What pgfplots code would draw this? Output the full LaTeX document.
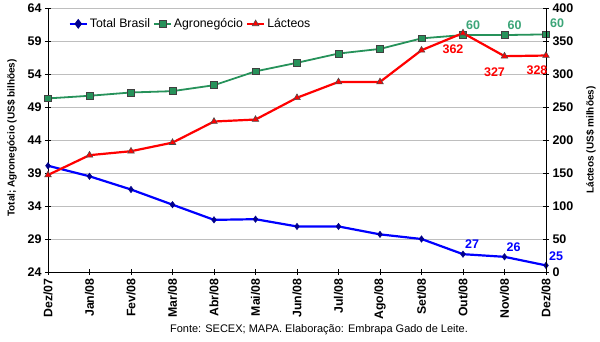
\documentclass[border=0pt]{standalone}
\usepackage{pgfplots}
\pgfplotsset{compat=1.18}
\usepackage{fontspec}
\setmainfont{Liberation Sans}
\definecolor{agro}{RGB}{38,146,90}
\definecolor{agrolab}{RGB}{60,165,120}
\definecolor{darkblue}{RGB}{0,0,140}
\definecolor{gridgray}{RGB}{190,190,190}
\pgfplotstableread{
x total agro lact
0 40.1 50.3 147
1 38.5 50.7 177
2 36.5 51.2 183
3 34.2 51.4 196
4 31.9 52.3 228
5 32.0 54.4 231
6 30.9 55.7 264
7 30.9 57.1 288
8 29.7 57.8 288
9 29.0 59.4 336
10 26.7 59.9 362
11 26.3 59.9 327
12 25.0 60.0 328
}\datatable
\begin{document}
\begin{tikzpicture}
\pgfplotsset{
  base/.style={
    scale only axis, width=498pt, height=264pt,
    at={(0,0)}, anchor=south west,
    clip=false,
    xmin=0, xmax=12,
    xtick={0,...,12},
    /pgf/number format/assume math mode=true,
    ticklabel style={font=\bfseries\fontsize{12.5}{14}\selectfont},
    tick align=center,
    major tick length=6pt,
    tick style={black, line width=0.8pt},
    axis line style={line width=0.9pt},
  }
}
\begin{axis}[base,
  axis y line*=left, axis x line*=bottom,
  ymin=24, ymax=64, ytick={24,29,...,64},
  ymajorgrids, grid style={gridgray, line width=0.9pt},
  xticklabels={Dez/07,Jan/08,Fev/08,Mar/08,Abr/08,Mai/08,Jun/08,Jul/08,Ago/08,Set/08,Out/08,Nov/08,Dez/08},
  xticklabel style={rotate=90, anchor=east, font=\bfseries\fontsize{12.3}{14}\selectfont},
]
\addplot[blue, line width=2.2pt, mark=diamond*, mark size=3.2pt,
  mark options={fill=darkblue, draw=darkblue, line width=0.5pt}] table[x=x,y=total] {\datatable};
\addplot[agro, line width=1.8pt, mark=square*, mark size=3.4pt,
  mark options={fill=agro, draw=black!75, line width=0.7pt}] table[x=x,y=agro] {\datatable};
\node[text=agrolab, font=\bfseries\fontsize{12.5}{14}\selectfont] at (axis cs:10,59.9) [xshift=10pt, yshift=10pt] {60};
\node[text=agrolab, font=\bfseries\fontsize{12.5}{14}\selectfont] at (axis cs:11,59.9) [xshift=10pt, yshift=10pt] {60};
\node[text=agrolab, font=\bfseries\fontsize{12.5}{14}\selectfont] at (axis cs:12,60.0) [xshift=11pt, yshift=11pt] {60};
\node[text=blue, font=\bfseries\fontsize{12.5}{14}\selectfont] at (axis cs:10,26.7) [xshift=9pt, yshift=10pt] {27};
\node[text=blue, font=\bfseries\fontsize{12.5}{14}\selectfont] at (axis cs:11,26.3) [xshift=9pt, yshift=10pt] {26};
\node[text=blue, font=\bfseries\fontsize{12.5}{14}\selectfont] at (axis cs:12,25.0) [xshift=10pt, yshift=9pt] {25};
\end{axis}
\begin{axis}[base,
  axis y line*=right, axis x line=none,
  ymin=0, ymax=400, ytick={0,50,...,400},
  legend style={at={(rel axis cs:0.035,0.94)}, anchor=west, draw=none, fill=none,
    font=\fontsize{12.3}{14}\selectfont, legend columns=-1,
    /tikz/every even column/.append style={column sep=1pt}},
  legend cell align=left,
]
\addlegendimage{blue, line width=2.2pt, mark=diamond*, mark size=3.2pt, mark options={fill=darkblue, draw=darkblue}}
\addlegendentry{Total Brasil}
\addlegendimage{agro, line width=1.8pt, mark=square*, mark size=3.4pt, mark options={fill=agro, draw=black!75, line width=0.7pt}}
\addlegendentry{Agronegócio}
\addplot[red, line width=2.2pt, mark=triangle*, mark size=3.8pt,
  mark options={fill=red, draw=black!70, line width=0.6pt}] table[x=x,y=lact] {\datatable};
\addlegendentry{Lácteos}
\node[text=red, font=\bfseries\fontsize{12.5}{14}\selectfont] at (axis cs:10,362) [xshift=-10pt, yshift=-16pt] {362};
\node[text=red, font=\bfseries\fontsize{12.5}{14}\selectfont] at (axis cs:11,327) [xshift=-10pt, yshift=-16pt] {327};
\node[text=red, font=\bfseries\fontsize{12.5}{14}\selectfont] at (axis cs:12,328) [xshift=-9pt, yshift=-15pt] {328};
\end{axis}
\node[rotate=90, font=\bfseries\fontsize{10}{11}\selectfont] at (-36pt,134pt) {Total; Agronegócio (US\$ bilhões)};
\node[rotate=90, font=\bfseries\fontsize{10}{11}\selectfont] at (543pt,132pt) {Lácteos (US\$ milhões)};
\node[font=\fontsize{11}{12}\selectfont] at (271pt,-58pt) {Fonte: SECEX; MAPA. Elaboração: Embrapa Gado de Leite.};
\pgfresetboundingbox
\path[use as bounding box] (-48pt,-70pt) rectangle (552pt,272pt);
\end{tikzpicture}
\end{document}
